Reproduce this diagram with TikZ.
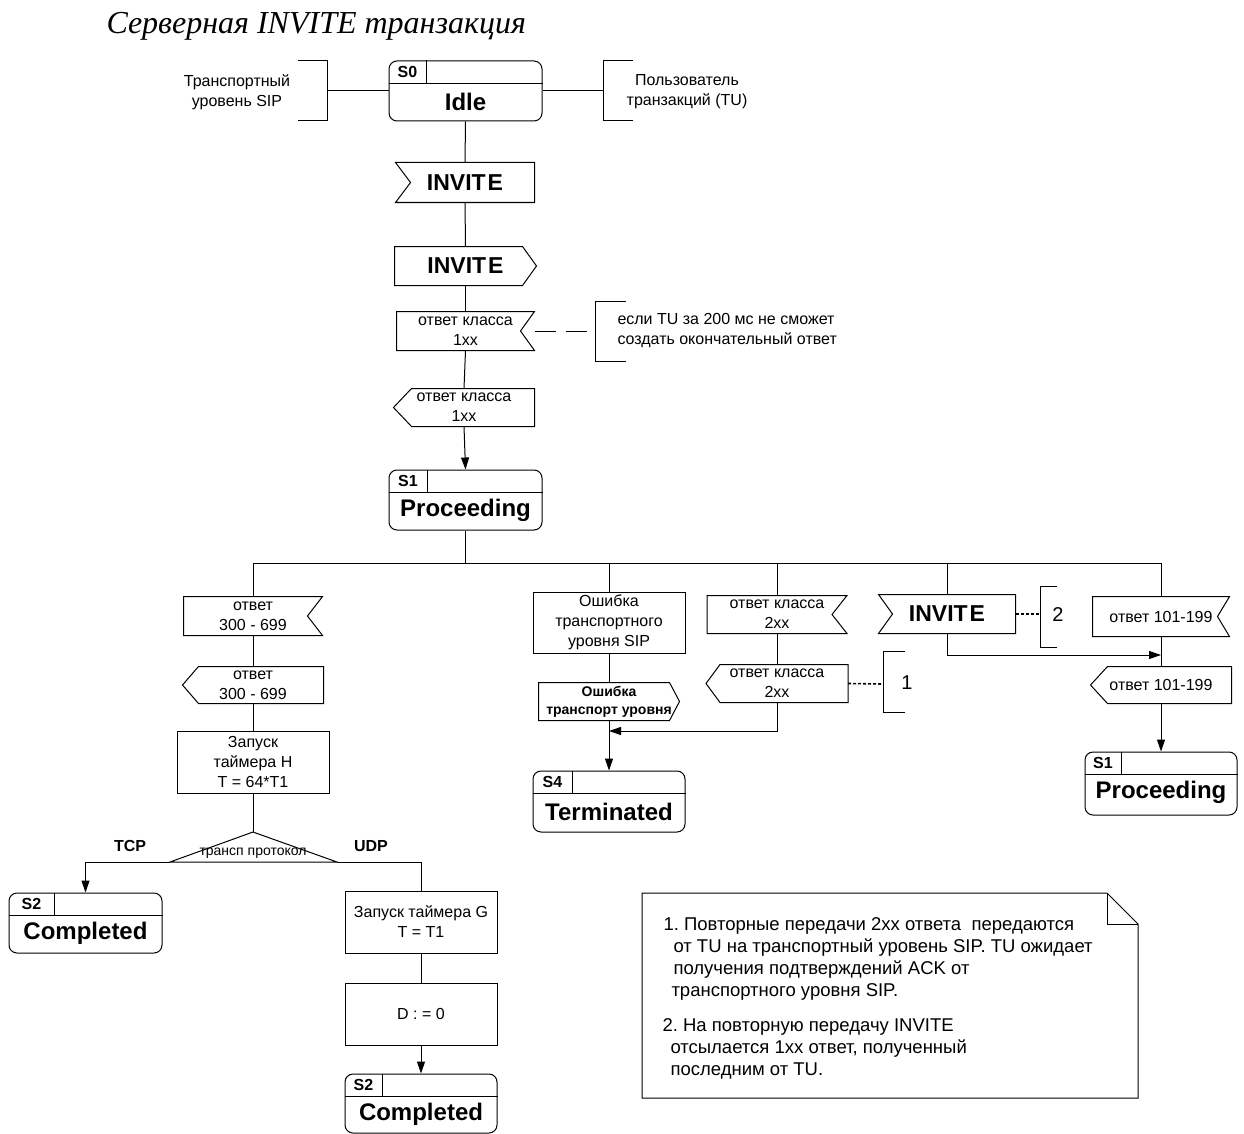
\documentclass[tikz,border=0pt]{standalone}
\usepackage{fontspec}
\setmainfont{Liberation Sans}
\newfontfamily\titlefont{Liberation Serif}
\usetikzlibrary{calc,arrows.meta}
\frenchspacing

\tikzset{
  stbox/.style={draw, rounded corners=8pt, minimum width=153pt, minimum height=60pt, inner sep=0pt},
  stid/.style={inner sep=0pt, font=\bfseries\fontsize{16}{18}\selectfont},
  stname/.style={inner sep=0pt, font=\bfseries\fontsize{24}{28}\selectfont},
  sig/.style={inner sep=0pt, align=center, font=\fontsize{16}{20}\selectfont},
  sigbold/.style={sig, font=\bfseries\fontsize{23}{26}\selectfont},
  procbox/.style={draw, inner sep=0pt, align=center, minimum width=152pt, minimum height=62pt, font=\fontsize{16}{20}\selectfont},
  txt/.style={inner sep=0pt, align=center, font=\fontsize{16}{20}\selectfont},
  notetxt/.style={inner sep=0pt, align=left, font=\fontsize{18.5}{22}\selectfont},
  arr/.style={-{Triangle[length=12pt,width=8pt]}},
  longdash/.style={dash pattern=on 21pt off 10pt},
  dotdash/.style={line width=1.6pt, dash pattern=on 3pt off 2pt},
}

\begin{document}
\begin{tikzpicture}[x=1pt,y=1pt,yscale=-1,xscale=1,line width=1pt]
\useasboundingbox (0,0) rectangle (1244,1134);

% Title
\node[anchor=base west, inner sep=0pt, font=\titlefont\itshape\fontsize{32}{36}\selectfont] (title) at (106,34) {Серверная INVITE транзакция};

% States
\node[stbox] (s0) at (465.5,91) {};
\node[stbox] (s1) at (465.5,500) {};
\node[stbox, minimum width=152pt, minimum height=61pt] (s4) at (609,801.5) {};
\node[stbox] (s2a) at (85.5,923) {};
\node[stbox, minimum width=152pt, minimum height=59pt] (s2b) at (421,1103.5) {};
\node[stbox, minimum width=152pt, minimum height=63pt] (s1b) at (1161,783.5) {};

\foreach \n/\w/\sid/\nm in {s0/38/S0/Idle, s1/39/S1/Proceeding, s4/40/S4/Terminated, s2a/46/S2/Completed, s2b/38/S2/Completed, s1b/37/S1/Proceeding}{
  \draw ($(\n.north west)+(0,23)$) -- ($(\n.north east)+(0,23)$);
  \draw ($(\n.north west)+(\w,0)$) -- ($(\n.north west)+(\w,23)$);
  \node[stid] (\n-id) at ($(\n.north west)+(\w/2,11.5)$) {\sid};
  \node[stname] (\n-name) at ($(\n.north)+(0,41)$) {\nm};
}

% Idle: comments left and right
\node[txt] (sipL) at (237,92) {Транспортный\\уровень SIP};
\coordinate (sipLb) at (327,91);
\draw (298,61) -- (327,61) -- (327,121) -- (298,121);
\draw (sipLb) -- (s0.west);
\node[txt] (tuR) at (687,92) {Пользователь\\транзакций (TU)};
\coordinate (tuRb) at (603,91);
\draw (633,61) -- (603,61) -- (603,121) -- (633,121);
\draw (s0.east) -- (tuRb);

% INVITE input
\node[sigbold, minimum width=138pt, minimum height=39pt] (inv1) at (465,182.5) {INVIT\kern2pt E};
\draw (inv1.north west) -- (inv1.north east) -- (inv1.south east) -- (inv1.south west) -- ($(inv1.west)+(15,0)$) -- cycle;
% INVITE output
\node[sigbold, minimum width=141pt, minimum height=38pt] (inv2) at (465.5,266) {INVIT\kern2pt E};
\draw (inv2.north west) -- ($(inv2.north east)+(-14,0)$) -- (inv2.east) -- ($(inv2.south east)+(-14,0)$) -- (inv2.south west) -- cycle;
% 1xx input
\node[sig, minimum width=137pt, minimum height=38pt] (r1a) at (465.5,331) {ответ класса\\1xx};
\draw (r1a.north west) -- (r1a.north east) -- ($(r1a.east)+(-14,0)$) -- (r1a.south east) -- (r1a.south west) -- cycle;
% 1xx output
\node[sig, minimum width=140pt, minimum height=37pt] (r1b) at (464,407.5) {ответ класса\\1xx};
\draw ($(r1b.north west)+(18,0)$) -- (r1b.north east) -- (r1b.south east) -- ($(r1b.south west)+(18,0)$) -- (r1b.west) -- cycle;

% comment on 1xx
\coordinate (c1b) at (595,331);
\draw[longdash] (r1a.east) -- (c1b);
\draw (626,301) -- (595,301) -- (595,361) -- (626,361);
\node[txt, align=left, anchor=west] (c1txt) at (617,331) {если TU за 200 мс не сможет\\создать окончательный ответ};

\draw (s0.south) -- (inv1.north);
\draw (inv1.south) -- (inv2.north);
\draw (inv2.south) -- (r1a.north);
\draw (r1a.south) -- (r1b.north);
\draw[arr] (r1b.south) -- (s1.north);

% bus
\coordinate (busL) at (253,563);
\coordinate (busR) at (1161,563);
\draw (s1.south) -- (s1.south |- busL);
\draw (busL) -- (busR);

% left branch: 300-699
\node[sig, minimum width=138pt, minimum height=38pt] (r3a) at (253,616) {ответ\\300 - 699};
\draw (r3a.north west) -- (r3a.north east) -- ($(r3a.east)+(-15,0)$) -- (r3a.south east) -- (r3a.south west) -- cycle;
\node[sig, minimum width=140pt, minimum height=36pt] (r3b) at (253,685) {ответ\\300 - 699};
\draw ($(r3b.north west)+(16,0)$) -- (r3b.north east) -- (r3b.south east) -- ($(r3b.south west)+(16,0)$) -- (r3b.west) -- cycle;
\node[procbox] (tmH) at (253,762) {Запуск\\таймера H\\T = 64*T1};

% decision
\coordinate (pT) at (253,832);
\coordinate (pL) at (170,862);
\coordinate (pR) at (337,862);
\draw (pT) -- (pR) -- (pL) -- cycle;
\node[txt, font=\fontsize{14}{16}\selectfont] (proto) at (253,853) {трансп протокол};
\node[txt, font=\bfseries\fontsize{16}{18}\selectfont] (tcp) at (130,846) {TCP};
\node[txt, font=\bfseries\fontsize{16}{18}\selectfont] (udp) at (371,846) {UDP};

\draw (busL) -- (r3a.north);
\draw (r3a.south) -- (r3b.north);
\draw (r3b.south) -- (tmH.north);
\draw (tmH.south) -- (pT);
\draw[arr] (pL) -| (s2a.north);

% UDP
\node[procbox] (tmG) at (421,922) {Запуск таймера G\\T = T1};
\node[procbox] (dz) at (421,1014) {D : = 0};
\draw (pR) -| (tmG.north);
\draw (tmG.south) -- (dz.north);
\draw[arr] (dz.south) -- (s2b.north);

% transport error
\node[procbox, minimum height=61pt] (err) at (609,622.5) {Ошибка\\транспортного\\уровня SIP};
\node[sig, font=\bfseries\fontsize{14}{18}\selectfont, minimum width=140pt, minimum height=37pt] (errout) at (609,701.5) {Ошибка\\транспорт уровня};
\draw (errout.north west) -- ($(errout.north east)+(-10,0)$) -- (errout.east) -- ($(errout.south east)+(-10,0)$) -- (errout.south west) -- cycle;
\draw (err.north) -- (err.north |- busL);
\draw (err.south) -- (errout.north);
\draw[arr] (errout.south) -- (s4.north);

% 2xx
\node[sig, minimum width=139pt, minimum height=37pt] (r2a) at (777,614.5) {ответ класса\\2xx};
\draw (r2a.north west) -- (r2a.north east) -- ($(r2a.east)+(-15,0)$) -- (r2a.south east) -- (r2a.south west) -- cycle;
\node[sig, minimum width=141pt, minimum height=37pt] (r2b) at (777,683.5) {ответ класса\\2xx};
\draw ($(r2b.north west)+(14,0)$) -- (r2b.north east) -- (r2b.south east) -- ($(r2b.south west)+(14,0)$) -- (r2b.west) -- cycle;
\draw (r2a.north) -- (r2a.north |- busL);
\draw (r2a.south) -- (r2b.north);
\coordinate (j4) at (609,731);
\draw[arr] (r2b.south) |- (j4);
\coordinate (b1) at (883,684);
\draw[dotdash] (r2b.east) -- (b1);
\draw (905,651) -- (883,651) -- (883,712) -- (905,712);
\node[txt, font=\fontsize{20}{24}\selectfont] (n1) at (907,683) {1};

% INVITE repeat
\node[sigbold, minimum width=136pt, minimum height=38pt] (inv3) at (947,614) {INVIT\kern2pt E};
\draw (inv3.north west) -- (inv3.north east) -- (inv3.south east) -- (inv3.south west) -- ($(inv3.west)+(14,0)$) -- cycle;
\draw (inv3.north) -- (inv3.north |- busL);
\coordinate (j1) at (1161,655);
\draw[arr] (inv3.south) |- (j1);
\coordinate (b2) at (1040,614);
\draw[dotdash] (inv3.east) -- (b2);
\draw (1057,586) -- (1040,586) -- (1040,647) -- (1057,647);
\node[txt, font=\fontsize{20}{24}\selectfont] (n2) at (1058,615) {2};

% 101-199
\node[sig, minimum width=136pt, minimum height=39pt] (r101a) at (1161,616.5) {ответ 101-199};
\draw (r101a.north west) -- (r101a.north east) -- ($(r101a.east)+(-12,0)$) -- (r101a.south east) -- (r101a.south west) -- cycle;
\node[sig, minimum width=140pt, minimum height=36pt] (r101b) at (1161,685) {ответ 101-199};
\draw ($(r101b.north west)+(17,0)$) -- (r101b.north east) -- (r101b.south east) -- ($(r101b.south west)+(17,0)$) -- (r101b.west) -- cycle;
\draw (busR) -- (r101a.north);
\draw (r101a.south) -- (r101b.north);
\draw[arr] (r101b.south) -- (s1b.north);

% note
\draw (642,893) -- (1107,893) -- (1138,924) -- (1138,1098) -- (642,1098) -- cycle;
\draw (1107,893) -- (1107,924) -- (1138,924);
\node[notetxt, anchor=north west] (note1) at (663,917.5) {1. Повторные передачи 2xx ответа~ передаются\\\hspace*{10pt}от TU на транспортный уровень SIP. TU ожидает\\\hspace*{10pt}получения подтверждений ACK от\\\hspace*{8pt}транспортного уровня SIP.};
\node[notetxt, anchor=north west] (note2) at (662,1018.5) {2. На повторную передачу INVITE\\\hspace*{8pt}отсылается 1xx ответ, полученный\\\hspace*{8pt}последним от TU.};

\end{tikzpicture}
\end{document}
